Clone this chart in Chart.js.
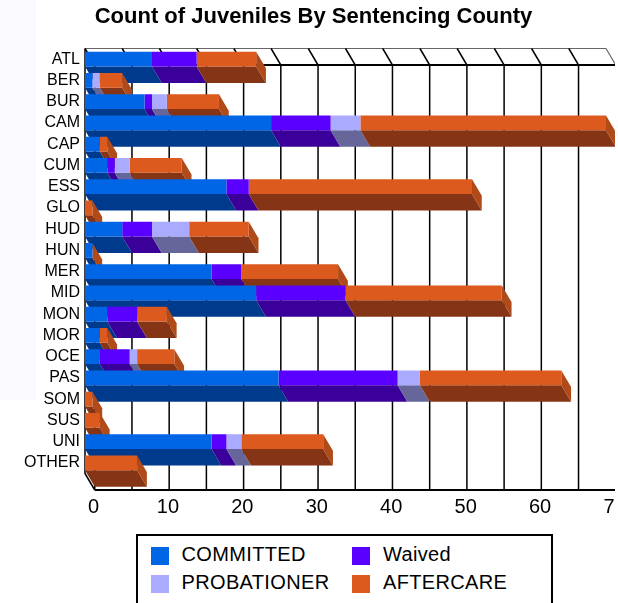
<!DOCTYPE html>
<html>
<head>
<meta charset="utf-8">
<script src="https://cdn.jsdelivr.net/npm/chart.js@4/dist/chart.umd.min.js"></script>
<style>
	html, body { margin: 0; padding: 0; width: 618px; height: 603px; overflow: hidden; background: #fff; }
	#tint { position: absolute; left: 0; top: 0; width: 36px; height: 400px; background: #faf9ff; }
	#statisticCounty { position: absolute; left: 0; top: 0; }
	#edge { position: absolute; left: 615px; top: 0; width: 3px; height: 603px; background: #fff; }
	#legend {
		position: absolute; left: 136px; top: 534px; width: 413px; height: 80px;
		border: 2.5px solid #000; background: #fff;
		font: 20px "Liberation Sans", Arial, sans-serif; letter-spacing: 0.35px; color: #000;
	}
	.item { position: absolute; height: 18px; line-height: 18px; white-space: nowrap; }
	.item i { display: inline-block; width: 18px; height: 18px; margin-right: 13px; vertical-align: top; }
	.item span { position: relative; top: -2px; }
</style>
</head>
<body>
<div id="tint"></div>
<canvas id="statisticCounty" width="618" height="603"></canvas>
<div id="edge"></div>
<div id="legend"></div>
<script>
const counties = ["ATL", "BER", "BUR", "CAM", "CAP", "CUM", "ESS", "GLO", "HUD", "HUN",
	"MER", "MID", "MON", "MOR", "OCE", "PAS", "SOM", "SUS", "UNI", "OTHER"];
const committed =    [9, 1, 8, 25, 2, 3, 19, 0, 5, 1, 17, 23, 3, 2, 2, 26, 0, 0, 17, 0];
const waived =       [6, 0, 1, 8, 0, 1, 3, 0, 4, 0, 4, 12, 4, 0, 4, 16, 0, 0, 2, 0];
const probationer =  [0, 1, 2, 4, 0, 2, 0, 0, 5, 0, 0, 0, 0, 0, 1, 3, 0, 0, 2, 0];
const aftercare =    [8, 3, 7, 33, 1, 7, 30, 1, 8, 0, 13, 21, 4, 1, 5, 19, 1, 2, 11, 7];
const seriesNames = ["COMMITTED", "Waived", "PROBATIONER", "AFTERCARE"];
const frontColors = ["#0066e6", "#5a00ff", "#aaaaff", "#dc5a1e"];
const darkColors = ["#003a8c", "#3a0099", "#66669a", "#853515"];
const capColor = "#b04a18";

// profundidad del efecto 3D
const depthX = 9.75;
const depthY = 16.5;

const box3d = {
	id: "box3d",
	beforeDatasetsDraw(chart) {
		const ctx = chart.ctx;
		const xs = chart.scales.x;
		const area = chart.chartArea;
		const topFront = area.top + depthY;
		const bottomFront = area.bottom + depthY;

		// pared y rejilla
		ctx.save();
		ctx.lineCap = "butt";
		ctx.strokeStyle = "#666";
		ctx.lineWidth = 1.2;
		ctx.beginPath();
		ctx.moveTo(area.left, area.top);
		ctx.lineTo(area.right, area.top);
		ctx.lineTo(area.right + depthX, topFront);
		ctx.stroke();
		ctx.strokeStyle = "#000";
		ctx.lineWidth = 1.5;
		xs.ticks.slice(0, -1).forEach((tick) => {
			const x = xs.getPixelForValue(tick.value);
			ctx.beginPath();
			ctx.moveTo(x, area.top);
			ctx.lineTo(x + depthX, topFront);
			ctx.lineTo(x + depthX, bottomFront);
			ctx.stroke();
		});
		ctx.beginPath();
		ctx.moveTo(area.left, area.top);
		ctx.lineTo(area.left, area.bottom);
		ctx.lineTo(area.left + depthX, bottomFront);
		ctx.stroke();
		ctx.lineWidth = 2;
		ctx.beginPath();
		ctx.moveTo(area.left + depthX, topFront);
		ctx.lineTo(area.right + depthX, topFront);
		ctx.moveTo(area.left + depthX, bottomFront);
		ctx.lineTo(area.right + depthX, bottomFront);
		ctx.stroke();

		// caras oscuras de cada barra
		chart.data.datasets.forEach((dataset, d) => {
			chart.getDatasetMeta(d).data.forEach((bar) => {
				const bottom = bar.y + bar.height / 2;
				if (bar.x > bar.base) {
					ctx.fillStyle = darkColors[d];
					ctx.beginPath();
					ctx.moveTo(bar.base, bottom);
					ctx.lineTo(bar.x, bottom);
					ctx.lineTo(bar.x + depthX, bottom + depthY);
					ctx.lineTo(bar.base + depthX, bottom + depthY);
					ctx.closePath();
					ctx.fill();
				}
			});
		});

		// tapa del final de la barra
		const last = chart.getDatasetMeta(chart.data.datasets.length - 1);
		last.data.forEach((bar) => {
			const top = bar.y - bar.height / 2;
			const bottom = bar.y + bar.height / 2;
			ctx.fillStyle = capColor;
			ctx.beginPath();
			ctx.moveTo(bar.x, top);
			ctx.lineTo(bar.x + depthX, top + depthY);
			ctx.lineTo(bar.x + depthX, bottom + depthY);
			ctx.lineTo(bar.x, bottom);
			ctx.closePath();
			ctx.fill();
		});
		ctx.restore();
	},
};

const seriesValues = [committed, waived, probationer, aftercare];

new Chart(document.getElementById("statisticCounty").getContext("2d"), {
	type: "bar",
	data: {
		labels: counties,
		datasets: seriesNames.map((name, i) => ({
			label: name,
			data: seriesValues[i],
			backgroundColor: frontColors[i],
			borderWidth: 0,
			barPercentage: 0.7,
			categoryPercentage: 1,
		})),
	},
	options: {
		indexAxis: "y",
		responsive: false,
		animation: false,
		layout: { padding: { left: 21, right: 12 } },
		scales: {
			x: {
				stacked: true,
				min: 0,
				max: 70,
				grid: { display: false, drawTicks: false },
				border: { display: false },
				afterFit: (axis) => {
					axis.height = 129.5;
					axis.paddingLeft = 0;
					axis.paddingRight = 0;
				},
				ticks: {
					stepSize: 5,
					autoSkip: false,
					maxRotation: 0,
					padding: 22,
					labelOffset: 8.5,
					color: "#000",
					font: { family: "Liberation Sans", size: 20 },
					callback: (value) => (value % 10 === 0 ? value : ""),
				},
			},
			y: {
				stacked: true,
				grid: { display: false, drawTicks: false },
				border: { display: false },
				afterFit: (axis) => {
					axis.width = 64;
					axis.paddingTop = 0;
					axis.paddingBottom = 0;
				},
				ticks: {
					padding: 5,
					autoSkip: false,
					color: "#000",
					font: { family: "Liberation Sans", size: 16 },
				},
			},
		},
		plugins: {
			legend: { display: false },
			tooltip: { enabled: false },
			title: {
				display: true,
				text: "Count of Juveniles By Sentencing County",
				color: "#000",
				font: { family: "Liberation Sans", size: 22, weight: "bold" },
				padding: { top: 4, bottom: 18.1 },
			},
		},
	},
	plugins: [box3d],
});

// leyenda en dos columnas
const legendSpots = [[12.5, 10.5], [214, 10.5], [12.5, 38.5], [214, 38.5]];
const legend = document.getElementById("legend");
seriesNames.forEach((name, i) => {
	const item = document.createElement("div");
	item.className = "item";
	item.style.left = legendSpots[i][0] + "px";
	item.style.top = legendSpots[i][1] + "px";
	item.innerHTML = `<i style="background:${frontColors[i]}"></i><span>${name}</span>`;
	legend.appendChild(item);
});
</script>
</body>
</html>
